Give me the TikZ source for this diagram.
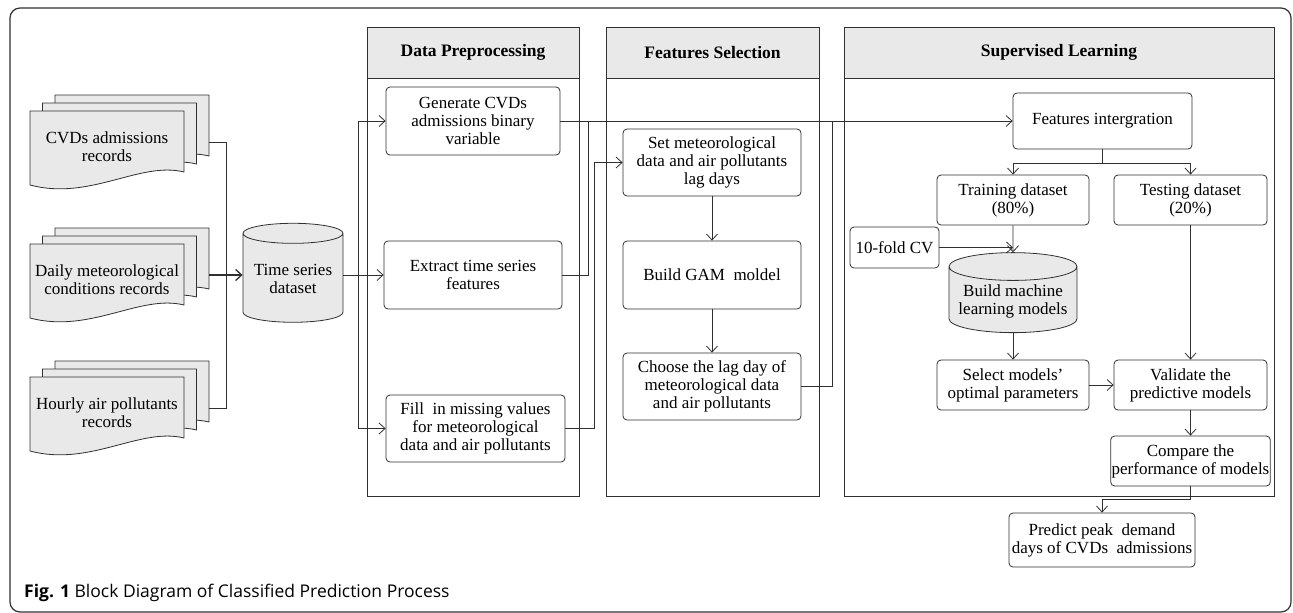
\documentclass[tikz,border=0pt]{standalone}
\usepackage{fontspec}
\setmainfont{Liberation Serif}
\newfontfamily\capfont{Open Sans}
\usetikzlibrary{arrows.meta,shapes.geometric,positioning}

\definecolor{linegray}{HTML}{303030}
\definecolor{docgray}{HTML}{E9E9E9}

% stack of three record sheets: name, left, top, text
\newcommand\docstack[4]{%
  \foreach \d in {2,1,0}{
    \begin{scope}[shift={(#2+12.5*\d,#3-8*\d)}]
      \draw[line, fill=docgray] (0,0) -- (154,0) -- (154,61)
        .. controls (110,50) and (60,90) .. (0,74) -- cycle;
    \end{scope}
  }
  \node[txt] (#1) at (#2+77,#3+36) {#4};
  \coordinate (#1-out) at (#2+179,#3+31);
}

\tikzset{
  txt/.style = {align=center, font=\fontsize{17}{18}\selectfont, inner sep=1pt},
  line/.style = {draw=linegray, line width=0.8pt},
  arr/.style = {line, -{Straight Barb[length=6pt,width=11pt]}},
  box/.style = {txt, line, rounded corners=4pt, fill=white},
  cyl/.style = {txt, line, fill=docgray, cylinder, shape border rotate=90, aspect=0.25},
  panel/.style = {line, minimum width=#1, minimum height=469},
  header/.style = {line, fill=docgray, minimum width=#1, minimum height=51,
    anchor=north, font=\fontsize{17.5}{20}\selectfont\bfseries}
}

\begin{document}
\begin{tikzpicture}[x=1pt, y=-1pt]
\useasboundingbox (0,0) rectangle (1293,613);
\draw[line, line width=1.2pt, rounded corners=10pt] (10,8) rectangle (1291,612);

% swim lanes
\node[panel=212] (dppanel) at (473,261.5) {};
\node[header=212] (dphead) at (dppanel.north) {Data Preprocessing};
\node[panel=213] (fspanel) at (712.5,261.5) {};
\node[header=213] (fshead) at (fspanel.north) {Features Selection};
\node[panel=430] (slpanel) at (1059,261.5) {};
\node[header=430] (slhead) at (slpanel.north) {Supervised Learning};

% raw records
\docstack{cvd}{30}{111}{CVDs admissions\\records}
\docstack{daily}{30}{244}{Daily meteorological\\conditions records}
\docstack{hourly}{30}{377}{Hourly air pollutants\\records}
\node[cyl, minimum width=100, minimum height=99] (ts) at (293,279) {Time series\\dataset};

% data preprocessing
\node[box, minimum width=174, minimum height=68] (gen) at (473,121) {Generate CVDs\\admissions binary\\variable};
\node[box, minimum width=178, minimum height=68] (ext) at (473,275) {Extract time series\\features};
\node[box, minimum width=179, minimum height=67] (fill) at (475.5,428.5) {Fill\ \ in missing values\\for meteorological\\data and air pollutants};

% features selection
\node[box, minimum width=178, minimum height=67] (set) at (712,162.5) {Set meteorological\\data and air pollutants\\lag days};
\node[box, minimum width=178, minimum height=68] (gam) at (712,275) {Build GAM\ \ moldel};
\node[box, minimum width=178, minimum height=67] (choose) at (712,386.5) {Choose the lag day of\\meteorological data\\and air pollutants};

% supervised learning
\node[box, minimum width=179, minimum height=56] (feat) at (1102.5,121) {Features intergration};
\node[box, minimum width=152, minimum height=50] (train) at (1013,200) {Training dataset\\(80\%)};
\node[box, minimum width=153, minimum height=50] (test) at (1190.5,200) {Testing dataset\\(20\%)};
\node[box, minimum width=89, minimum height=41] (cv) at (894.5,247.5) {10-fold CV};
\node[cyl, minimum width=128, minimum height=80] (ml) at (1013,301) {Build machine\\learning models};
\node[box, minimum width=152, minimum height=50] (select) at (1013,385) {Select models'\\optimal parameters};
\node[box, minimum width=153, minimum height=50] (valid) at (1190.5,385) {Validate the\\predictive models};
\node[box, minimum width=153, minimum height=50] (compare) at (1190.5,461) {Compare the\\performance of models};
\node[box, minimum width=186, minimum height=54] (predict) at (1102,540) {Predict peak\ \ demand\\days of CVDs\ \ admissions};

% connectors
\coordinate (tsfork) at (358,275);
\coordinate (j1) at (588,121);
\coordinate (j2) at (832,121);
\draw[line] (cvd-out) -- ++(17,0) |- (hourly-out);
\draw[arr, line width=1.3pt] (daily-out) -- (daily-out -| ts.west);
\draw[line] (ts.east |- tsfork) -- (tsfork);
\draw[arr] (tsfork) |- (gen.west);
\draw[arr] (tsfork) -- (ext.west);
\draw[arr] (tsfork) |- (fill.west);
\draw[arr] (gen.east) -- (feat.west);
\draw[line] (ext.east) -| (j1);
\draw[arr] (fill.east) -- ++(29,0) |- (set.west);
\draw[arr] (set) -- (gam);
\draw[arr] (gam) -- (choose);
\draw[line] (choose.east) -| (j2);
\draw[line] (feat.south) -- ++(0,14) coordinate (ffork);
\draw[arr] (ffork) -| (train.north);
\draw[arr] (ffork) -| (test.north);
\draw[arr] (train.south) -- (ml.north);
\draw[arr] (cv.east) -- (cv.east -| ml.north);
\draw[arr] (ml.south) -- (select.north);
\draw[arr] (select) -- (valid);
\draw[arr] (test) -- (valid);
\draw[arr] (valid) -- (compare);
\draw[arr] (compare.south) -- ++(0,13) -| (predict.north);

\node[anchor=west, inner sep=0pt, font=\capfont\fontsize{17.5}{21}\selectfont] (cap) at (24,593)
  {\textbf{Fig. 1} Block Diagram of Classified Prediction Process};
\end{tikzpicture}
\end{document}
